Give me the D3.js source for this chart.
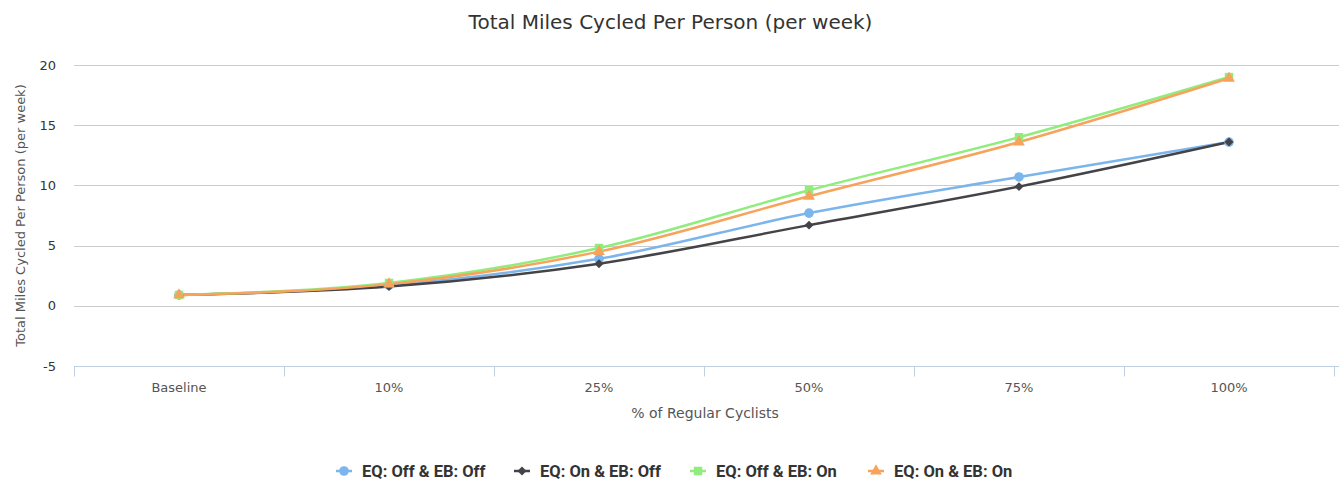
<!DOCTYPE html>
<meta charset="utf-8">
<script src="https://d3js.org/d3.v7.min.js"></script>
<style>
body { margin: 0; background: #fff; }
text { font-family: Tahoma, "DejaVu Sans", sans-serif; }
</style>
<div id="chart"></div>
<script>
// data
var categories = ["Baseline", "10%", "25%", "50%", "75%", "100%"];
var eqOffEbOff = [0.9, 1.7, 3.9, 7.7, 10.7, 13.6];
var eqOnEbOff  = [0.9, 1.6, 3.5, 6.7, 9.9, 13.6];
var eqOffEbOn  = [0.9, 1.9, 4.8, 9.6, 14.0, 19.0];
var eqOnEbOn   = [0.9, 1.8, 4.5, 9.1, 13.6, 18.9];
var yTicks = [-5, 0, 5, 10, 15, 20];

var series = [
  {name: "EQ: Off & EB: Off", values: eqOffEbOff, color: "#7cb5ec", symbol: d3.symbolCircle, size: 72, rot: 0},
  {name: "EQ: On & EB: Off",  values: eqOnEbOff,  color: "#434348", symbol: d3.symbolSquare, size: 40, rot: 45},
  {name: "EQ: Off & EB: On",  values: eqOffEbOn,  color: "#90ed7d", symbol: d3.symbolSquare, size: 72, rot: 0},
  {name: "EQ: On & EB: On",   values: eqOnEbOn,   color: "#f7a35c", symbol: d3.symbolTriangle, size: 60, rot: 0}
];

var W = 1339, H = 481;
var margin = {top: 65, right: 5, bottom: 115, left: 74};

var svg = d3.select("#chart").append("svg")
  .attr("width", W).attr("height", H);
var g = svg.append("g")
  .attr("transform", "translate(" + margin.left + "," + margin.top + ")");

var x = d3.scaleBand().domain(categories).range([0, 1260]);
var y = d3.scaleLinear().domain([-5, 20]).range([301, 0]);

// grid lines
g.append("g").selectAll("line")
  .data(yTicks.filter(function(d) { return d > -5; }))
  .enter().append("line")
    .attr("x1", 0).attr("x2", W - margin.left)
    .attr("y1", function(d) { return Math.round(y(d)) + 0.5; })
    .attr("y2", function(d) { return Math.round(y(d)) + 0.5; })
    .attr("stroke", "#cccccc").attr("stroke-width", 1);

// y axis labels
g.selectAll(".ylab")
  .data(yTicks)
  .enter().append("text")
    .attr("x", -18)
    .attr("y", function(d) { return y(d); })
    .attr("dy", "0.35em")
    .attr("text-anchor", "end")
    .style("font-size", "13px")
    .attr("fill", "#333")
    .text(function(d) { return d; });

// x axis
var xAxis = g.append("g")
  .attr("transform", "translate(0," + (Math.round(y(-5)) + 0.5) + ")");
xAxis.append("line")
  .attr("x1", 0).attr("x2", W - margin.left)
  .attr("stroke", "#c0d0e0");
xAxis.selectAll(".tick")
  .data(d3.range(categories.length + 1))
  .enter().append("line")
    .attr("x1", function(i) { return Math.round(i * x.bandwidth()) + 0.5; })
    .attr("x2", function(i) { return Math.round(i * x.bandwidth()) + 0.5; })
    .attr("y1", 0).attr("y2", 10)
    .attr("stroke", "#c0d0e0");
xAxis.selectAll(".xlab")
  .data(categories)
  .enter().append("text")
    .attr("x", function(d) { return x(d) + x.bandwidth() / 2; })
    .attr("y", 25)
    .attr("text-anchor", "middle")
    .style("font-size", "13px")
    .attr("fill", "#555")
    .text(function(d) { return d; });

// titles
svg.append("text")
  .attr("x", W / 2 + 1).attr("y", 29)
  .attr("text-anchor", "middle")
  .style("font-size", "20px")
  .attr("fill", "#333")
  .text("Total Miles Cycled Per Person (per week)");

svg.append("text")
  .attr("x", 705).attr("y", 418)
  .attr("text-anchor", "middle")
  .style("font-size", "14px")
  .attr("fill", "#555")
  .text("% of Regular Cyclists");

svg.append("text")
  .attr("transform", "translate(25," + (margin.top + y(7.5)) + ")rotate(-90)")
  .attr("text-anchor", "middle")
  .style("font-size", "13px")
  .attr("fill", "#555")
  .text("Total Miles Cycled Per Person (per week)");

// lines
var line = d3.line()
  .x(function(d, i) { return x(categories[i]) + x.bandwidth() / 2; })
  .y(function(d) { return y(d); })
  .curve(d3.curveMonotoneX);

series.forEach(function(s) {
  g.append("path")
    .datum(s.values)
    .attr("d", line)
    .attr("fill", "none")
    .attr("stroke", s.color)
    .attr("stroke-width", 2.5);
});

series.forEach(function(s) {
  g.selectAll(null)
    .data(s.values)
    .enter().append("path")
      .attr("d", d3.symbol().type(s.symbol).size(s.size))
      .attr("transform", function(d, i) {
        return "translate(" + (x(categories[i]) + x.bandwidth() / 2) + "," + y(d) + ")rotate(" + s.rot + ")";
      })
      .attr("fill", s.color);
});

// legend
var legendX = [344, 522, 698, 876];
var legend = svg.append("g").attr("transform", "translate(0,471)");
series.forEach(function(s, i) {
  var lg = legend.append("g").attr("transform", "translate(" + legendX[i] + ",0)");
  lg.append("line").attr("x1", -8).attr("x2", 8).attr("stroke", s.color).attr("stroke-width", 2.5);
  lg.append("path")
    .attr("d", d3.symbol().type(s.symbol).size(s.size))
    .attr("transform", "rotate(" + s.rot + ")")
    .attr("fill", s.color);
  lg.append("text")
    .attr("x", 18).attr("dy", "0.35em")
    .style("font-family", "Roboto, sans-serif")
    .style("font-size", "16.5px")
    .style("font-weight", "bold")
    .attr("fill", "#333")
    .text(s.name);
});
</script>
